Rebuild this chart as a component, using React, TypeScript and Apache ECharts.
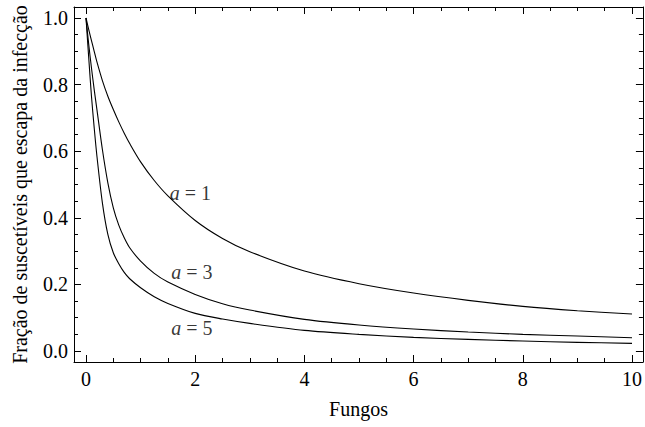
import React, { useEffect, useRef } from "react";
import * as echarts from "echarts";

// Number of fungi (x) and fraction of susceptibles escaping infection (y)
const fungos = [0, 0.05, 0.1, 0.15, 0.2, 0.3, 0.4, 0.5, 0.6, 0.7, 0.8, 1, 1.25, 1.5, 2, 2.5, 3, 4, 5, 6, 7, 8, 9, 10];
const escapeA1 = [1.0, 0.965, 0.932, 0.9, 0.868, 0.812, 0.765, 0.725, 0.688, 0.654, 0.623, 0.568, 0.512, 0.466, 0.392, 0.338, 0.298, 0.24, 0.202, 0.174, 0.152, 0.134, 0.121, 0.111];
const escapeA3 = [1.0, 0.92, 0.85, 0.785, 0.725, 0.605, 0.505, 0.43, 0.378, 0.34, 0.31, 0.27, 0.233, 0.207, 0.17, 0.142, 0.123, 0.095, 0.078, 0.066, 0.057, 0.05, 0.045, 0.04];
const escapeA5 = [1.0, 0.88, 0.765, 0.67, 0.585, 0.445, 0.35, 0.295, 0.262, 0.236, 0.217, 0.19, 0.163, 0.143, 0.113, 0.096, 0.083, 0.062, 0.05, 0.041, 0.035, 0.03, 0.026, 0.023];

// Curve annotations
const labelText = ["1", "3", "5"];
const labelX = [1.91, 1.94, 1.94];
const labelY = [0.474, 0.238, 0.068];

// Ticks
const xMajorTicks = [0, 2, 4, 6, 8, 10];
const xMinorTicks = [0.5, 1, 1.5, 2.5, 3, 3.5, 4.5, 5, 5.5, 6.5, 7, 7.5, 8.5, 9, 9.5];
const yMajorTicks = [0, 0.2, 0.4, 0.6, 0.8, 1.0];
const yMinorTicks = [0.05, 0.1, 0.15, 0.25, 0.3, 0.35, 0.45, 0.5, 0.55, 0.65, 0.7, 0.75, 0.85, 0.9, 0.95];

const X_MIN = -0.22;
const X_MAX = 10.2;
const Y_MIN = -0.033;
const Y_MAX = 1.033;

const FONT = "Liberation Serif";
const FS = 20;

function zip(xs: number[], ys: number[]) {
  return xs.map((x, i) => [x, ys[i]]);
}

function xAxisDef(pos: string, ticks: number[], len: number, showLine: boolean, showLabels: boolean, name?: string) {
  return {
    type: "value",
    position: pos,
    min: X_MIN,
    max: X_MAX,
    name: name || "",
    nameLocation: "middle",
    nameGap: 37,
    nameTextStyle: { fontFamily: FONT, fontSize: FS, color: "#000" },
    axisLine: { show: showLine, onZero: false, lineStyle: { color: "#000", width: 1 } },
    axisTick: { show: true, inside: true, length: len, customValues: ticks, lineStyle: { color: "#000", width: 1 } },
    axisLabel: {
      show: showLabels,
      customValues: ticks,
      margin: 7,
      fontFamily: FONT,
      fontSize: FS,
      color: "#000",
      formatter: (v: number) => String(Math.round(v)),
    },
    splitLine: { show: false },
  };
}

function yAxisDef(pos: string, ticks: number[], len: number, showLine: boolean, showLabels: boolean, name?: string) {
  return {
    type: "value",
    position: pos,
    min: Y_MIN,
    max: Y_MAX,
    name: name || "",
    nameLocation: "middle",
    nameGap: 44,
    nameRotate: 90,
    nameTextStyle: { fontFamily: FONT, fontSize: FS, color: "#000" },
    axisLine: { show: showLine, onZero: false, lineStyle: { color: "#000", width: 1 } },
    axisTick: { show: true, inside: true, length: len, customValues: ticks, lineStyle: { color: "#000", width: 1 } },
    axisLabel: {
      show: showLabels,
      customValues: ticks,
      margin: 6,
      fontFamily: FONT,
      fontSize: FS,
      color: "#000",
      formatter: (v: number) => v.toFixed(1),
    },
    splitLine: { show: false },
  };
}

export default function App() {
  const ref = useRef<HTMLDivElement>(null);

  useEffect(() => {
    if (!ref.current) return;
    const chart = echarts.init(ref.current, undefined, { renderer: "svg" });

    const curve = (data: number[][]) => ({
      type: "line",
      xAxisIndex: 0,
      yAxisIndex: 0,
      data,
      showSymbol: false,
      symbol: "none",
      smooth: 0.3,
      lineStyle: { color: "#000", width: 1.1 },
      silent: true,
      z: 3,
    });

    chart.setOption({
      animation: false,
      backgroundColor: "#fff",
      textStyle: { fontFamily: FONT, color: "#000" },
      grid: { left: 74, top: 7, width: 575, height: 355, containLabel: false, show: false },
      xAxis: [
        xAxisDef("bottom", xMajorTicks, 7, true, true, "Fungos"),
        xAxisDef("bottom", xMinorTicks, 4, false, false),
        xAxisDef("top", xMajorTicks, 7, true, false),
        xAxisDef("top", xMinorTicks, 4, false, false),
      ],
      yAxis: [
        yAxisDef("left", yMajorTicks, 7, true, true, "Fração de suscetíveis que escapa da infecção"),
        yAxisDef("left", yMinorTicks, 4, false, false),
        yAxisDef("right", yMajorTicks, 7, true, false),
        yAxisDef("right", yMinorTicks, 4, false, false),
      ],
      series: [
        curve(zip(fungos, escapeA1)),
        curve(zip(fungos, escapeA3)),
        curve(zip(fungos, escapeA5)),
        {
          type: "scatter",
          xAxisIndex: 0,
          yAxisIndex: 0,
          symbolSize: 0,
          silent: true,
          data: labelX.map((x, i) => ({ value: [x, labelY[i]], name: labelText[i] })),
          label: {
            show: true,
            position: "inside",
            formatter: (p: any) => "{i|a} = " + p.name,
            fontFamily: FONT,
            fontSize: FS,
            color: "#000",
            rich: {
              i: { fontFamily: FONT, fontSize: FS, fontStyle: "italic", color: "#000" },
            },
          },
        },
      ],
    });

    return () => chart.dispose();
  }, []);

  return (
    <div
      ref={ref}
      style={{ position: "fixed", left: 0, top: 0, width: 645, height: 427, background: "#fff" }}
    />
  );
}
